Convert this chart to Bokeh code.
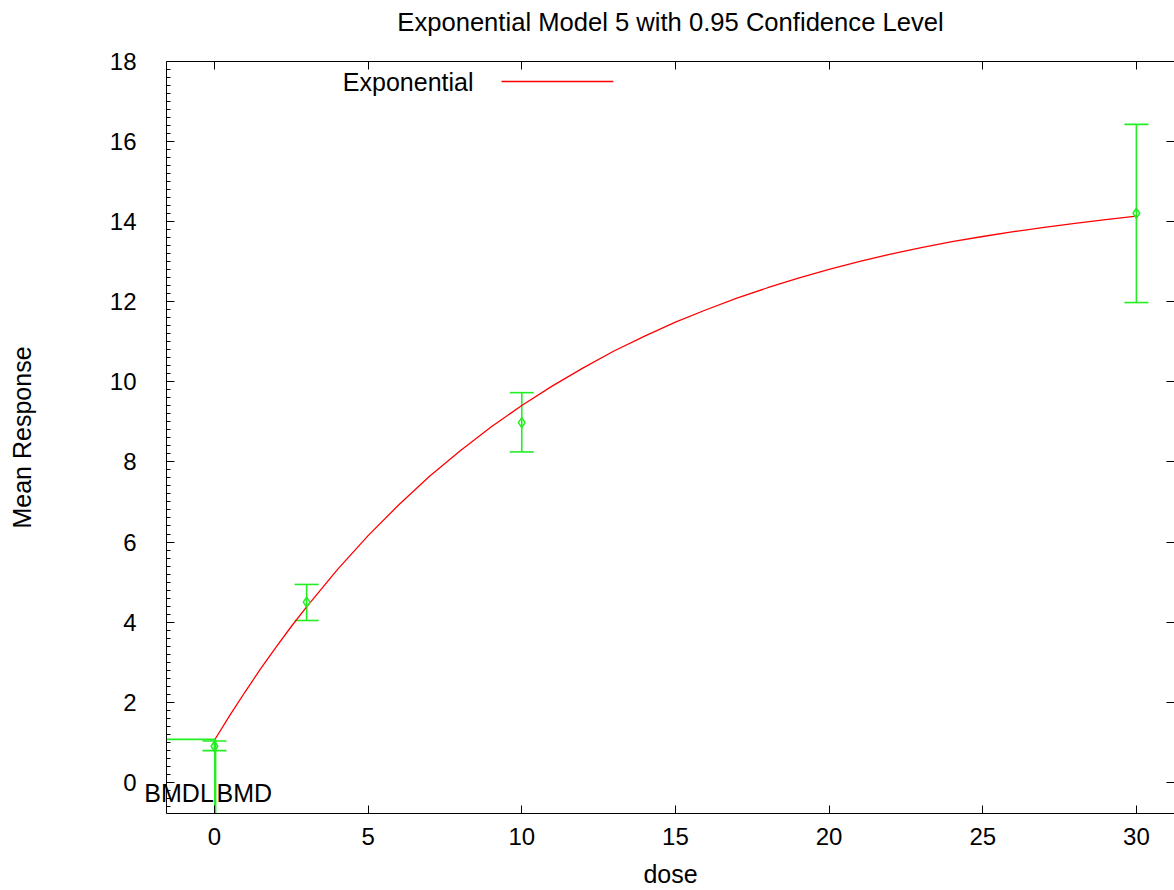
from bokeh.plotting import figure
from bokeh.models import (Range1d, LinearAxis, FixedTicker, Label, Whisker, TeeHead,
                          ColumnDataSource, AllLabels)
from bokeh.embed import file_html
from bokeh.resources import INLINE

# ---------------- data ----------------
dose = [0, 3, 10, 30]
mean_resp = [0.90, 4.50, 8.98, 14.21]
ci_lower = [0.79, 4.04, 8.25, 11.98]
ci_upper = [1.03, 4.94, 9.73, 16.43]

curve_dose = [0, 0.5, 1, 1.5, 2, 2.5, 3, 4, 5, 6, 7, 8, 9, 10, 11, 12, 13, 14, 15,
              16, 17, 18, 19, 20, 21, 22, 23, 24, 25, 26, 27, 28, 29, 30]
curve_resp = [1.05, 1.67, 2.26, 2.83, 3.37, 3.89, 4.38, 5.31, 6.16, 6.93, 7.64,
              8.28, 8.87, 9.41, 9.90, 10.35, 10.77, 11.14, 11.49, 11.80, 12.09,
              12.35, 12.59, 12.81, 13.01, 13.19, 13.35, 13.50, 13.63, 13.75,
              13.86, 13.96, 14.05, 14.14]

bmdl = 0.02
bmd = 0.03
bmr_response = 1.07

x_ticks = [0, 5, 10, 15, 20, 25, 30]
y_ticks = [0, 2, 4, 6, 8, 10, 12, 14, 16, 18]
y_minor = [round(i * 0.2, 2) for i in range(-3, 91) if i % 10 != 0]

X_START, X_END = -1.56, 31.24
Y_START, Y_END = -0.78, 18.0

TITLE = "Exponential Model 5 with 0.95 Confidence Level"
FONT = "Liberation Sans"
GREEN = "#22ee22"

FRAME_W = 1008
PX_PER_X = FRAME_W / (X_END - X_START)

# ---------------- figure ----------------
p = figure(width=1174, height=890, output_backend="svg", toolbar_location=None,
           x_range=Range1d(X_START, X_END), y_range=Range1d(Y_START, Y_END),
           min_border_left=166, min_border_right=0, min_border_top=61,
           min_border_bottom=74, x_axis_type=None, y_axis_type=None)
p.outline_line_color = None
p.xgrid.visible = False
p.ygrid.visible = False
p.background_fill_color = "white"
p.border_fill_color = "white"
p.title.visible = False


def style_axis(ax, ticks, minor=None, labels=True):
    ax.ticker = FixedTicker(ticks=ticks, minor_ticks=minor or [])
    ax.axis_line_color = "black"
    ax.axis_line_width = 1
    ax.major_tick_in = 8
    ax.major_tick_out = 0
    ax.minor_tick_in = 4 if minor else 0
    ax.minor_tick_out = 0
    ax.major_tick_line_color = "black"
    ax.minor_tick_line_color = "black"
    ax.major_label_text_font = FONT
    ax.major_label_text_font_size = "24px" if labels else "0px"
    ax.major_label_text_color = "black"
    ax.axis_label_text_font = FONT
    ax.axis_label_text_font_size = "25px"
    ax.axis_label_text_font_style = "normal"
    ax.axis_label_text_color = "black"


xb = LinearAxis(axis_label="dose")
style_axis(xb, x_ticks)
xb.major_label_standoff = 14
xb.axis_label_standoff = 12
p.add_layout(xb, "below")

yl = LinearAxis(axis_label="Mean Response")
style_axis(yl, y_ticks, y_minor)
yl.major_label_standoff = 30
yl.axis_label_standoff = 71
p.add_layout(yl, "left")

# top border, carrying the chart title as its label
xt = LinearAxis(axis_label=TITLE)
style_axis(xt, x_ticks, labels=False)
xt.major_label_standoff = 0
xt.axis_label_text_font_size = "25.6px"
xt.axis_label_standoff = 26
p.add_layout(xt, "above")

yr = LinearAxis()
style_axis(yr, y_ticks, labels=False)
yr.axis_line_color = None
yr.major_label_standoff = 0
p.add_layout(yr, "right")

# ---------------- fitted curve ----------------
p.line(curve_dose, curve_resp, line_color="red", line_width=1.3)

# ---------------- data with error bars ----------------
src = ColumnDataSource(dict(dose=dose, mean=mean_resp, lo=ci_lower, hi=ci_upper))
wh = Whisker(base="dose", lower="lo", upper="hi", source=src, dimension="height",
             line_color=GREEN, line_width=1.6,
             upper_head=TeeHead(size=24, line_color=GREEN, line_width=1.6),
             lower_head=TeeHead(size=24, line_color=GREEN, line_width=1.6))
p.add_layout(wh)
p.scatter("dose", "mean", source=src, marker="diamond", size=10,
          fill_color=None, line_color=GREEN, line_width=1.5)

# ---------------- BMD / BMDL markers ----------------
p.line([X_START, bmd], [bmr_response, bmr_response], line_color=GREEN, line_width=1.6)
p.line([bmd, bmd], [Y_START, bmr_response], line_color=GREEN, line_width=2)
p.line([bmdl, bmdl], [Y_START, bmr_response], line_color=GREEN, line_width=2)

# BMDL / BMD texts: tick labels of an extra (unclipped) bottom axis, pulled up into
# the frame with a negative standoff; "BMDL" ends at the BMDL, "BMD" starts at the BMD
BMDL_HALF_W, BMD_HALF_W = 36, 29  # half text widths in px
bmdl_c = round(bmdl - BMDL_HALF_W / PX_PER_X, 3)
bmd_c = round(bmd + BMD_HALF_W / PX_PER_X, 3)
bax = LinearAxis()
bax.ticker = FixedTicker(ticks=[bmdl_c, bmd_c], minor_ticks=[])
bax.major_label_overrides = {bmdl_c: "BMDL", bmd_c: "BMD"}
bax.major_label_policy = AllLabels()
bax.axis_line_color = None
bax.major_tick_line_color = None
bax.minor_tick_line_color = None
bax.major_tick_in = 0
bax.major_tick_out = 0
bax.major_label_standoff = -112
bax.major_label_text_font = FONT
bax.major_label_text_font_size = "25px"
bax.major_label_text_color = "black"
p.add_layout(bax, "below")

# ---------------- legend (label left, sample line right) ----------------
LEG_TEXT_X, LEG_Y = 8.43, 17.5
LEG_LINE_X = [9.34, 12.98]
p.add_layout(Label(x=LEG_TEXT_X, y=LEG_Y, text="Exponential", text_align="right",
                   text_baseline="middle", text_font=FONT, text_font_size="25px",
                   text_color="black"))
p.line(LEG_LINE_X, [LEG_Y, LEG_Y], line_color="red", line_width=1.3)

open("out.html", "w").write(file_html(p, INLINE))
